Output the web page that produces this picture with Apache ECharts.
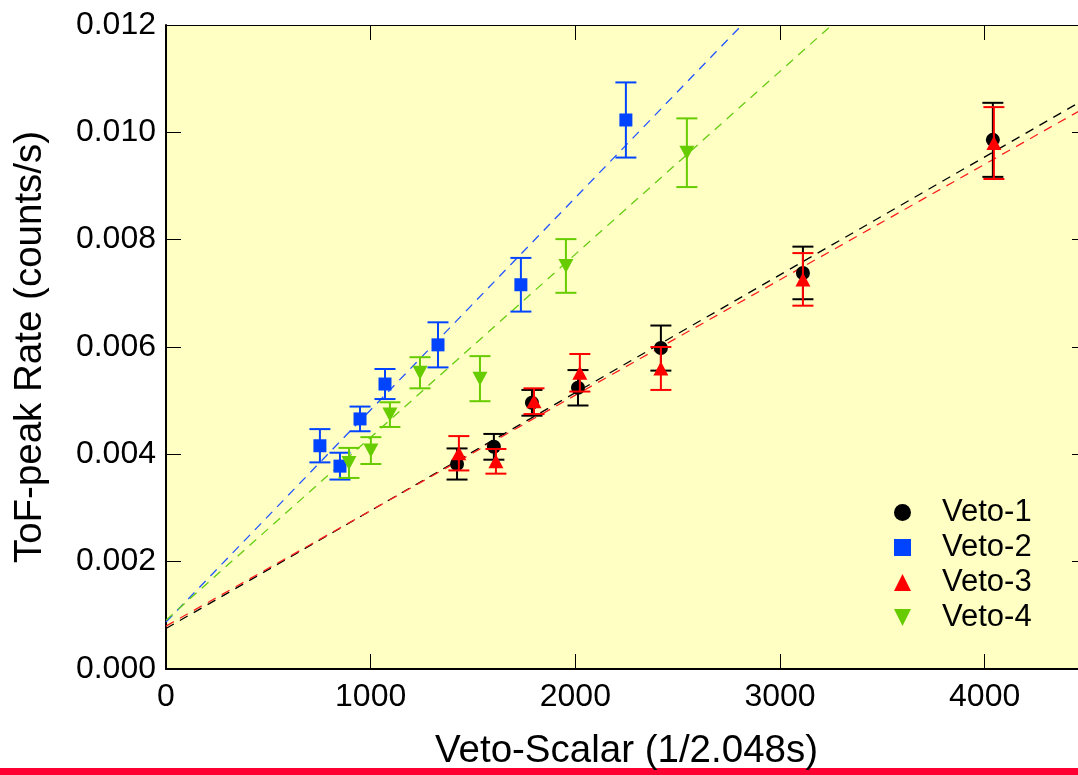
<!DOCTYPE html>
<html>
<head>
<meta charset="utf-8">
<script src="https://cdn.jsdelivr.net/npm/echarts/dist/echarts.min.js"></script>
<style>
html,body{margin:0;padding:0;background:#fff;}
#chart{width:1078px;height:775px;}
</style>
</head>
<body>
<div id="chart"></div>
<script>
// ---- data ----
var seriesNames = ['Veto-1', 'Veto-2', 'Veto-3', 'Veto-4'];

var v1x = [1422, 1602, 1788, 2013, 2418, 3112, 4040];
var v1y = [0.00382, 0.00414, 0.00496, 0.00524, 0.00598, 0.00738, 0.00986];
var v1e = [0.00029, 0.00024, 0.00024, 0.00033, 0.00042, 0.00049, 0.00069];

var v2x = [752, 850, 948, 1070, 1329, 1734, 2247];
var v2y = [0.00416, 0.00378, 0.00466, 0.00531, 0.00604, 0.00716, 0.01023];
var v2e = [0.00031, 0.00025, 0.00023, 0.00028, 0.00042, 0.00050, 0.00070];

var v3x = [1431, 1612, 1798, 2022, 2418, 3112, 4045];
var v3y = [0.00402, 0.00387, 0.00499, 0.00552, 0.00560, 0.00726, 0.00980];
var v3e = [0.00032, 0.00023, 0.00024, 0.00035, 0.00040, 0.00049, 0.00067];

var v4x = [894, 1001, 1094, 1241, 1534, 1954, 2545];
var v4y = [0.00384, 0.00407, 0.00474, 0.00552, 0.00541, 0.00751, 0.00962];
var v4e = [0.00028, 0.00025, 0.00023, 0.00029, 0.00042, 0.00050, 0.00064];

// fitted straight lines (end points)
var fit1 = [[0, 0.000754], [4500, 0.01064]];
var fit2 = [[0, 0.000876], [2900, 0.01234]];
var fit3 = [[0, 0.00080], [4500, 0.01048]];
var fit4 = [[0, 0.00091], [3400, 0.01250]];

var xTicks = [0, 1000, 2000, 3000, 4000];
var yTicks = ['0.000', '0.002', '0.004', '0.006', '0.008', '0.010', '0.012'];

// ---- styling ----
var colors = ['#000000', '#0044ff', '#ff0000', '#66cc00'];
var lineColors = ['#000000', '#2255ff', '#ff2020', '#66cc11'];
var symbols = ['circle', 'rect', 'path://M5,0 L10,10 L0,10 Z', 'path://M0,0 L10,0 L5,10 Z'];
var sizes = [14, 13, [15, 14], [15, 14]];
var legendIcons = ['circle', 'rect', 'path://M5,0 L10,10 L0,10 Z', 'path://M0,0 L10,0 L5,10 Z'];
var FONT = 'Liberation Sans, Arial, sans-serif';

var xs = [v1x, v2x, v3x, v4x];
var ys = [v1y, v2y, v3y, v4y];
var es = [v1e, v2e, v3e, v4e];
var fits = [fit1, fit2, fit3, fit4];

var series = [];
for (var i = 0; i < 4; i++) {
  series.push({
    name: 'fit' + (i + 1),
    type: 'line',
    data: fits[i],
    showSymbol: false,
    symbol: 'none',
    silent: true,
    clip: true,
    lineStyle: { color: lineColors[i], width: 1.3, type: [9, 7] },
    z: 2
  });
}
for (var i = 0; i < 4; i++) {
  (function (k) {
    var errData = xs[k].map(function (x, j) {
      return [x, ys[k][j] - es[k][j], ys[k][j] + es[k][j]];
    });
    series.push({
      name: 'err' + (k + 1),
      type: 'custom',
      silent: true,
      z: 3 + k * 2,
      data: errData,
      encode: { x: 0, y: [1, 2] },
      renderItem: function (params, api) {
        var x = api.value(0);
        var lo = api.coord([x, api.value(1)]);
        var hi = api.coord([x, api.value(2)]);
        var cw = 10.5;
        var st = { stroke: colors[k], lineWidth: 2 };
        return {
          type: 'group',
          children: [
            { type: 'line', shape: { x1: hi[0], y1: hi[1], x2: lo[0], y2: lo[1] }, style: st },
            { type: 'line', shape: { x1: hi[0] - cw, y1: hi[1], x2: hi[0] + cw, y2: hi[1] }, style: st },
            { type: 'line', shape: { x1: lo[0] - cw, y1: lo[1], x2: lo[0] + cw, y2: lo[1] }, style: st }
          ]
        };
      }
    });
    series.push({
      name: seriesNames[k],
      type: 'scatter',
      z: 4 + k * 2,
      symbol: symbols[k],
      symbolSize: sizes[k],
      itemStyle: { color: colors[k], opacity: 1 },
      data: xs[k].map(function (x, j) { return [x, ys[k][j]]; })
    });
  })(i);
}

var chart = echarts.init(document.getElementById('chart'), null, { renderer: 'canvas' });
chart.setOption({
  animation: false,
  backgroundColor: '#ffffff',
  textStyle: { fontFamily: FONT },
  grid: {
    left: 166, top: 25, right: -9, bottom: 106,
    show: true, backgroundColor: '#ffffc4', borderWidth: 0,
    containLabel: false, outerBoundsMode: 'none'
  },
  legend: {
    orient: 'vertical',
    left: 889, top: 490,
    data: seriesNames.map(function (n, k) { return { name: n, icon: legendIcons[k] }; }),
    itemWidth: 17, itemHeight: 17, itemGap: 0,
    textStyle: { fontSize: 31, color: '#000', fontFamily: FONT, lineHeight: 35, padding: [0, 0, 0, 26] },
    selectedMode: false
  },
  xAxis: [{
    type: 'value', min: 0, max: 4500, interval: 1000, position: 'bottom',
    name: 'Veto-Scalar (1/2.048s)', nameLocation: 'middle', nameGap: 63, nameMoveOverlap: false,
    nameTextStyle: { fontSize: 38.5, color: '#000', fontFamily: FONT },
    axisLine: { show: true, onZero: false, lineStyle: { color: '#000', width: 2 } },
    axisTick: { show: true, inside: true, length: 15, lineStyle: { color: '#000', width: 1 } },
    axisLabel: { show: true, fontSize: 32, color: '#000', margin: 12, fontFamily: FONT, showMaxLabel: false,
      formatter: function (v) { return xTicks.indexOf(v) >= 0 ? String(v) : ''; } },
    splitLine: { show: false }
  }, {
    type: 'value', min: 0, max: 4500, interval: 1000, position: 'top',
    axisLine: { show: true, onZero: false, lineStyle: { color: '#000', width: 1.2 } },
    axisTick: { show: true, inside: true, length: 15, lineStyle: { color: '#000', width: 1 } },
    axisLabel: { show: false }, splitLine: { show: false }
  }],
  yAxis: [{
    type: 'value', min: 0, max: 0.012, interval: 0.002, position: 'left',
    name: 'ToF-peak Rate (counts/s)', nameLocation: 'middle', nameGap: 116, nameMoveOverlap: false,
    nameTextStyle: { fontSize: 38.5, color: '#000', fontFamily: FONT },
    axisLine: { show: true, onZero: false, lineStyle: { color: '#000', width: 2 } },
    axisTick: { show: true, inside: true, length: 15, lineStyle: { color: '#000', width: 1 } },
    axisLabel: { show: true, fontSize: 32, color: '#000', margin: 10, fontFamily: FONT,
      formatter: function (v) { return yTicks[Math.round(v / 0.002)]; } },
    splitLine: { show: false }
  }, {
    type: 'value', min: 0, max: 0.012, interval: 0.002, position: 'right',
    axisLine: { show: true, onZero: false, lineStyle: { color: '#000', width: 1.2 } },
    axisTick: { show: true, inside: true, length: 15, lineStyle: { color: '#000', width: 1 } },
    axisLabel: { show: false }, splitLine: { show: false }
  }],
  graphic: [{
    type: 'rect', z: -1, silent: true,
    shape: { x: 0, y: 768, width: 1078, height: 7 },
    style: { fill: '#ff0033' }
  }],
  series: series
});
</script>
</body>
</html>
